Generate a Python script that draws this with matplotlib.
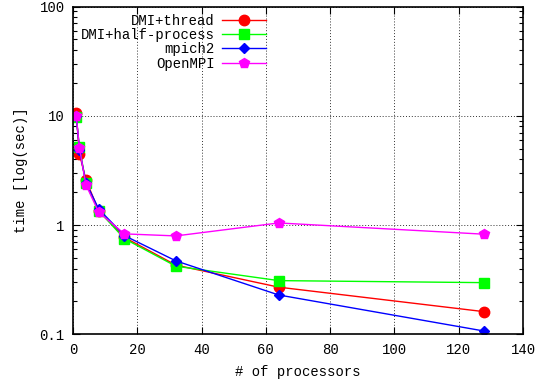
import matplotlib
matplotlib.use("Agg")
import matplotlib.pyplot as plt
from matplotlib.ticker import FixedLocator, NullFormatter, LogLocator

plt.rcParams['font.family'] = ['Liberation Mono', 'DejaVu Sans Mono']

procs = [1, 2, 4, 8, 16, 32, 64, 128]
dmi_thread = [10.5, 4.5, 2.6, 1.35, 0.77, 0.43, 0.27, 0.161]
dmi_half = [9.7, 5.2, 2.4, 1.35, 0.75, 0.42, 0.31, 0.297]
mpich2 = [10.0, 4.9, 2.45, 1.4, 0.80, 0.47, 0.229, 0.107]
openmpi = [10.0, 5.1, 2.34, 1.31, 0.83, 0.795, 1.045, 0.824]

series = [
    ("DMI+thread", dmi_thread, "#ff0000", "o", 7.5),
    ("DMI+half-process", dmi_half, "#00ff00", "s", 7),
    ("mpich2", mpich2, "#0000ff", "D", 5.5),
    ("OpenMPI", openmpi, "#ff00ff", "p", 7),
]

xticks = [0, 20, 40, 60, 80, 100, 120, 140]
yticks = [0.1, 1, 10, 100]
ytick_labels = ["0.1", "1", "10", "100"]

fig = plt.figure(figsize=(5.51, 3.83), dpi=100)
ax = fig.add_axes([73/551, (383-334.3)/383, 450/551, 327.8/383])

for name, vals, col, mk, ms in series:
    ax.plot(procs, vals, color=col, marker=mk, markersize=ms, lw=1, label=name)

ax.set_yscale('log')
ax.set_xlim(0, 140)
ax.set_ylim(0.1, 100)
ax.set_xticks(xticks)
ax.set_xticklabels([str(t) for t in xticks])
ax.yaxis.set_major_locator(FixedLocator(yticks))
ax.set_yticklabels(ytick_labels)
ax.yaxis.set_minor_locator(LogLocator(base=10, subs=range(2, 10)))
ax.yaxis.set_minor_formatter(NullFormatter())

ax.tick_params(which='both', direction='in', top=True, right=True, labelsize=10, colors='black')
ax.tick_params(which='major', length=5, width=0.8, pad=6)
ax.tick_params(which='minor', length=3, width=0.8)
for s in ax.spines.values():
    s.set_linewidth(1.2)

ax.grid(True, which='major', linestyle=(0, (1, 2)), color='#333333', lw=0.7)

ax.set_xlabel("# of processors", fontsize=10, labelpad=6)
ax.set_ylabel("time [log(sec)]", fontsize=10, labelpad=8)

leg = ax.legend(loc='upper right', bbox_to_anchor=((266-73)/450, 0.978),
                frameon=False, markerfirst=False, borderpad=0, borderaxespad=0,
                handlelength=3.2, handletextpad=0.5, labelspacing=0.02, fontsize=10)

fig.savefig("out.png", dpi=100)
